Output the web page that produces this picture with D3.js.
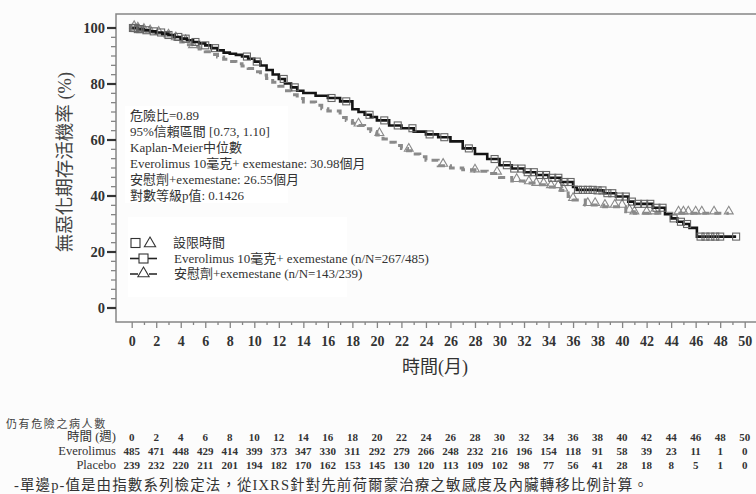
<!DOCTYPE html>
<html>
<head>
<meta charset="utf-8">
<script src="https://cdn.jsdelivr.net/npm/d3@7"></script>
<style>
  html, body { margin: 0; padding: 0; background: #fcfcfc; }
  svg { display: block; }
  text { font-family: "Liberation Serif", "Times New Roman", "DejaVu Serif", "Noto Sans CJK TC", serif; }
</style>
</head>
<body>
<div id="chart"></div>
<script>
// Kaplan-Meier PFS chart (D3 v7)

const width = 756;
const height = 494;

// --- data: step points (months, % surviving)
const everoTimes = [0, 0.5, 1, 1.5, 2, 2.5, 3, 3.5, 4, 4.5, 5, 5.5, 6, 6.5, 7, 7.5, 8, 8.5, 9, 9.5,
  10, 10.5, 11, 11.5, 12, 12.5, 13, 13.5, 14, 15, 16, 17, 18, 18.5, 19, 19.5, 20, 21, 22, 23,
  24, 25, 26, 27, 28, 29, 30, 31, 32, 33, 34, 35, 36, 36.3, 38, 38.5, 39.5, 40.5, 41, 42.5,
  43.5, 44, 44.5, 45, 45.5, 46.1, 49.3];
const everoValues = [100, 99.6, 99.2, 98.8, 98.4, 98, 97.5, 96.8, 96.2, 95.6, 95, 94.5, 93.8, 92.8, 92, 91.2, 90.8, 90.4, 89.8, 89,
  88, 86.6, 85, 83.4, 81.8, 80.2, 78.8, 77.6, 76.8, 75.8, 75, 73.8, 71, 70, 69, 68.2, 67, 65.2, 64.2, 63,
  62, 61, 59.5, 57, 55, 53.2, 51, 49.8, 48.5, 47.5, 46.5, 45, 43.2, 42.2, 42, 41, 39.8, 38, 37.2, 35.8,
  33.5, 32, 30.8, 30, 28.6, 25.5, 25.5];

const placeboTimes = [0, 0.5, 1, 1.5, 2, 2.5, 3, 3.5, 4, 4.5, 5, 5.5, 6, 6.5, 7, 7.5, 8, 8.5, 9, 9.5,
  10, 10.5, 11, 11.5, 12, 12.5, 13, 13.5, 14, 15, 15.5, 16, 17, 17.5, 18, 18.5, 19, 19.5, 20, 20.5,
  21, 21.5, 22, 22.5, 23, 23.5, 24, 25, 26, 27, 28, 29, 30, 31, 32, 33, 34, 35, 35.6, 36,
  37, 38.5, 40.3, 41, 48.7];
const placeboValues = [100, 99.5, 99, 98.5, 98, 97.6, 97, 96, 95, 94, 93.2, 92.5, 91.5, 90.5, 89.6, 88.8, 88, 87.2, 86.4, 85.5,
  84.4, 83.2, 82, 80.6, 79.2, 77.6, 76.2, 74.8, 73.6, 72.4, 71.2, 70.4, 68, 67, 66, 65.2, 64, 63, 61.8, 60.4,
  59.2, 58, 57, 56.2, 55, 54, 52.8, 50.8, 50, 49.4, 48.8, 48, 46.6, 45.4, 44.6, 44, 43.2, 42, 39.8, 38.6,
  36.8, 36.2, 34.4, 33.8, 33.8];

// censoring times
const everoCensor = [0.1, 0.2, 0.3, 0.5, 0.7, 1.2, 1.8, 2.4, 3.0, 3.8, 4.4, 5.2, 6.0, 6.8, 9.4, 10.2, 12.4, 13.3,
  16.3, 17.5, 19.4, 20.6, 21.7, 22.9, 24.3, 25.5, 27.5, 29.6, 30.6, 31.2, 31.8, 32.3, 32.8, 33.3, 33.8,
  34.3, 34.8, 35.3, 35.8, 36.4, 36.8, 37.2, 37.6, 38.0, 38.4, 38.8, 39.2, 39.8, 40.3, 40.8, 41.3, 41.8,
  42.3, 42.8, 43.3, 44.2, 44.8, 45.3, 46.4, 46.8, 47.2, 47.6, 48.0, 49.3];
const placeboCensor = [0.2, 0.5, 1.0, 1.5, 2.2, 3.0, 3.6, 4.4, 5.0, 18.5, 20.2, 22.6, 25.4, 28.0, 29.8, 31.4,
  32.4, 33.0, 33.6, 34.2, 34.8, 35.2, 36.0, 37.2, 37.8, 38.6, 39.4, 40.0, 40.6, 41.0, 42.0, 42.6, 44.6,
  45.0, 45.4, 46.0, 46.5, 47.5, 48.7];

// number at risk
const riskTimes = [0, 2, 4, 6, 8, 10, 12, 14, 16, 18, 20, 22, 24, 26, 28, 30, 32, 34, 36, 38, 40, 42, 44, 46, 48, 50];
const riskEvero = [485, 471, 448, 429, 414, 399, 373, 347, 330, 311, 292, 279, 266, 248, 232, 216, 196, 154, 118, 91, 58, 39, 23, 11, 1, 0];
const riskPlacebo = [239, 232, 220, 211, 201, 194, 182, 170, 162, 153, 145, 130, 120, 113, 109, 102, 98, 77, 56, 41, 28, 18, 8, 5, 1, 0];

const yTicks = [0, 20, 40, 60, 80, 100];
const statLines = [
  '危險比=0.89',
  '95%信賴區間 [0.73, 1.10]',
  'Kaplan-Meier中位數',
  'Everolimus 10毫克+ exemestane: 30.98個月',
  '安慰劑+exemestane: 26.55個月',
  '對數等級p值: 0.1426'
];
const legendLabels = ['設限時間', 'Everolimus 10毫克+ exemestane (n/N=267/485)', '安慰劑+exemestane (n/N=143/239)'];

// --- layout
const frame = { left: 116, top: 14, right: 756, bottom: 322 };

const x = d3.scaleLinear().domain([0, 50]).range([131.7, 744.7]);
const y = d3.scaleLinear().domain([0, 100]).range([308, 28]);

const svg = d3.select('#chart')
  .append('svg')
  .attr('width', width)
  .attr('height', height)
  .attr('viewBox', `0 0 ${width} ${height}`);

const axisColor = '#858585';

// frame: top line, left line, bottom line
svg.append('path')
  .attr('d', `M${frame.right},${frame.top}H${frame.left}V${frame.bottom}H${frame.right}`)
  .attr('fill', 'none')
  .attr('stroke', axisColor)
  .attr('stroke-width', 1.5);

// y axis ticks
const yMinor = [];
for (let k = 0; k < 5; k++) {
  for (let i = 1; i < 6; i++) yMinor.push(k * 20 + i * 20 / 6);
}
svg.append('g').selectAll('line')
  .data(yMinor)
  .join('line')
  .attr('x1', frame.left - 5).attr('x2', frame.left)
  .attr('y1', d => y(d)).attr('y2', d => y(d))
  .attr('stroke', axisColor).attr('stroke-width', 1.3);

svg.append('g').selectAll('line')
  .data(yTicks)
  .join('line')
  .attr('x1', frame.left - 9).attr('x2', frame.left)
  .attr('y1', d => y(d)).attr('y2', d => y(d))
  .attr('stroke', '#333').attr('stroke-width', 2.2);

svg.append('g').selectAll('text')
  .data(yTicks)
  .join('text')
  .attr('x', frame.left - 11)
  .attr('y', d => y(d))
  .attr('dy', '0.35em')
  .attr('text-anchor', 'end')
  .attr('fill', '#333')
  .style('font-size', '14.5px')
  .style('font-weight', 'bold')
  .text(d => d);

// x axis ticks
const xAxis = d3.axisBottom(x)
  .tickValues(d3.range(0, 51, 1))
  .tickSizeOuter(0)
  .tickFormat(d => d % 2 === 0 ? d : '');

const xg = svg.append('g')
  .attr('transform', `translate(0, ${frame.bottom})`)
  .call(xAxis)
  .attr('font-family', null);
xg.select('.domain').remove();
xg.selectAll('.tick line')
  .attr('stroke', axisColor)
  .attr('stroke-width', 1.3)
  .attr('y2', d => d % 2 === 0 ? 6 : 3);
xg.selectAll('.tick text')
  .attr('y', 14)
  .attr('fill', '#333')
  .style('font-size', '14px')
  .style('font-weight', 'bold');

// axis titles
svg.append('text')
  .attr('transform', `translate(71, 162) rotate(-90)`)
  .attr('text-anchor', 'middle')
  .attr('fill', '#444')
  .style('font-size', '18.5px')
  .text('無惡化期存活機率 (%)');

svg.append('text')
  .attr('x', 435)
  .attr('y', 373)
  .attr('text-anchor', 'middle')
  .attr('fill', '#333')
  .style('font-size', '18px')
  .text('時間(月)');

// --- stats annotation box
svg.append('rect')
  .attr('x', 125).attr('y', 106)
  .attr('width', 163).attr('height', 97)
  .attr('fill', '#fff');

svg.append('g').selectAll('text')
  .data(statLines)
  .join('text')
  .attr('x', 130)
  .attr('y', (d, i) => 120 + i * 15.9)
  .attr('fill', '#333')
  .style('font-size', '13px')
  .text(d => d);

// --- legend box
svg.append('rect')
  .attr('x', 128).attr('y', 217)
  .attr('width', 219).attr('height', 80)
  .attr('fill', '#fff');

// --- curves
const stepLine = d3.line()
  .x(d => x(d[0]))
  .y(d => y(d[1]))
  .curve(d3.curveStepAfter);

const everoPts = everoTimes.map((t, i) => [t, everoValues[i]]);
const placeboPts = placeboTimes.map((t, i) => [t, placeboValues[i]]);

function valueAt(times, values, t) {
  const i = d3.bisectRight(times, t) - 1;
  return values[Math.max(0, i)];
}

const triangle = d3.symbol().type(d3.symbolTriangle).size(34);

svg.append('path')
  .datum(placeboPts)
  .attr('d', stepLine)
  .attr('fill', 'none')
  .attr('stroke', '#8a8a8a')
  .attr('stroke-width', 3)
  .attr('stroke-dasharray', '7,5');

svg.append('g').selectAll('path')
  .data(placeboCensor)
  .join('path')
  .attr('transform', d => `translate(${x(d)}, ${y(valueAt(placeboTimes, placeboValues, d)) - 2})`)
  .attr('d', triangle)
  .attr('fill', 'none')
  .attr('stroke', '#8a8a8a')
  .attr('stroke-width', 1.1);

svg.append('path')
  .datum(everoPts)
  .attr('d', stepLine)
  .attr('fill', 'none')
  .attr('stroke', '#141414')
  .attr('stroke-width', 2.6);

svg.append('g').selectAll('rect')
  .data(everoCensor)
  .join('rect')
  .attr('x', d => x(d) - 3.5)
  .attr('y', d => y(valueAt(everoTimes, everoValues, d)) - 3.5)
  .attr('width', 7)
  .attr('height', 7)
  .attr('fill', 'none')
  .attr('stroke', '#666')
  .attr('stroke-width', 1.1);

// --- legend content
const lg = svg.append('g');
lg.append('rect')
  .attr('x', 131).attr('y', 238.5).attr('width', 9).attr('height', 9)
  .attr('fill', 'none').attr('stroke', '#333').attr('stroke-width', 1.1);
lg.append('path')
  .attr('transform', 'translate(150, 243.5)')
  .attr('d', d3.symbol().type(d3.symbolTriangle).size(55))
  .attr('fill', 'none').attr('stroke', '#333').attr('stroke-width', 1.1);

lg.append('line')
  .attr('x1', 130).attr('x2', 157).attr('y1', 258.5).attr('y2', 258.5)
  .attr('stroke', '#222').attr('stroke-width', 1.6);
lg.append('rect')
  .attr('x', 139).attr('y', 254).attr('width', 9).attr('height', 9)
  .attr('fill', '#fff').attr('stroke', '#333').attr('stroke-width', 1.1);

lg.append('line')
  .attr('x1', 130).attr('x2', 157).attr('y1', 274).attr('y2', 274)
  .attr('stroke', '#222').attr('stroke-width', 1.6)
  .attr('stroke-dasharray', '8,11');
lg.append('path')
  .attr('transform', 'translate(143.5, 273.5)')
  .attr('d', d3.symbol().type(d3.symbolTriangle).size(55))
  .attr('fill', '#fff').attr('stroke', '#333').attr('stroke-width', 1.1);

lg.selectAll('text.leg')
  .data(legendLabels)
  .join('text')
  .attr('class', 'leg')
  .attr('x', (d, i) => i === 0 ? 173 : 174)
  .attr('y', (d, i) => 247 + i * 15.5)
  .attr('fill', '#333')
  .style('font-size', '13px')
  .text(d => d);

// --- number at risk table
svg.append('text')
  .attr('x', 6).attr('y', 428)
  .attr('fill', '#444')
  .style('font-size', '11px')
  .style('letter-spacing', '1.6px')
  .text('仍有危險之病人數');

const rowY = [441, 455, 469];
const rowLabels = ['時間 (週)', 'Everolimus', 'Placebo'];
svg.append('g').selectAll('text')
  .data(rowLabels)
  .join('text')
  .attr('x', 116)
  .attr('y', (d, i) => rowY[i])
  .attr('text-anchor', 'end')
  .attr('fill', '#333')
  .style('font-size', '12.5px')
  .text(d => d);

const rows = [riskTimes, riskEvero, riskPlacebo];
rows.forEach((vals, r) => {
  svg.append('g').selectAll('text')
    .data(vals)
    .join('text')
    .attr('x', (d, i) => x(riskTimes[i]))
    .attr('y', rowY[r])
    .attr('text-anchor', 'middle')
    .attr('fill', '#333')
    .style('font-size', '11px')
    .style('font-weight', 'bold')
    .text(d => d);
});

// footnote
svg.append('text')
  .attr('x', 14).attr('y', 490)
  .attr('fill', '#333')
  .style('font-size', '14.5px')
  .style('letter-spacing', '1.1px')
  .text('-單邊p-值是由指數系列檢定法，從IXRS針對先前荷爾蒙治療之敏感度及內臟轉移比例計算。');
</script>
</body>
</html>
